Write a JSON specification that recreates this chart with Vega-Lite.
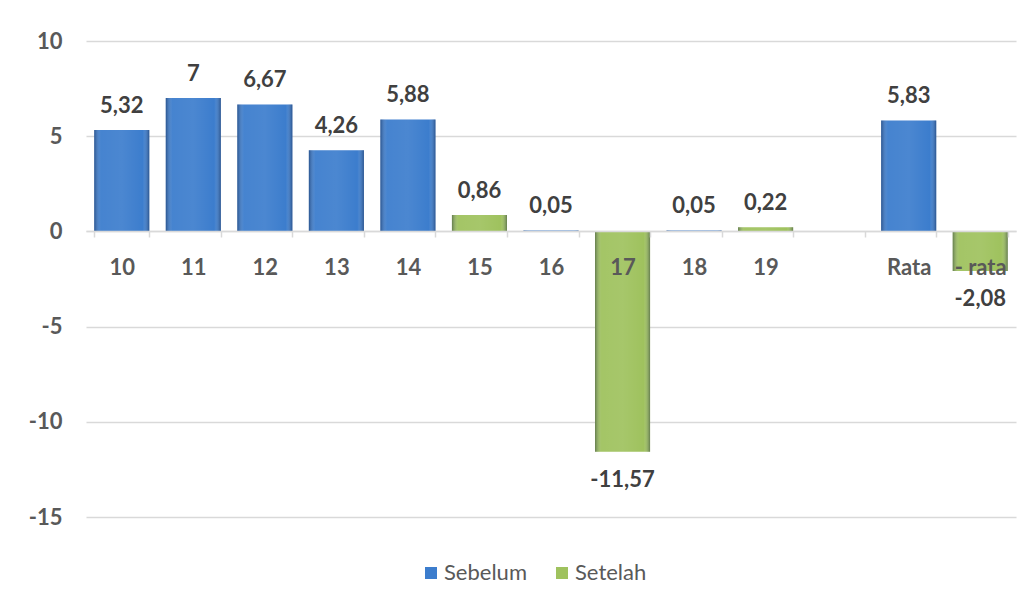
{
  "$schema": "https://vega.github.io/schema/vega-lite/v6.json",
  "width": 930,
  "height": 476,
  "autosize": "none",
  "padding": {"left": 86, "top": 41, "right": 16, "bottom": 82},
  "background": "white",
  "config": {
    "font": "Lato",
    "view": {"stroke": null},
    "locale": {"number": {"decimal": ",", "thousands": ".", "grouping": [3], "currency": ["", ""], "minus": "-"}}
  },
  "data": {
    "values": [
      {"kategori": "10", "seri": "Sebelum", "nilai": 5.32},
      {"kategori": "11", "seri": "Sebelum", "nilai": 7},
      {"kategori": "12", "seri": "Sebelum", "nilai": 6.67},
      {"kategori": "13", "seri": "Sebelum", "nilai": 4.26},
      {"kategori": "14", "seri": "Sebelum", "nilai": 5.88},
      {"kategori": "15", "seri": "Setelah", "nilai": 0.86},
      {"kategori": "16", "seri": "Sebelum", "nilai": 0.05},
      {"kategori": "17", "seri": "Setelah", "nilai": -11.57},
      {"kategori": "18", "seri": "Sebelum", "nilai": 0.05},
      {"kategori": "19", "seri": "Setelah", "nilai": 0.22},
      {"kategori": "Rata", "seri": "Sebelum", "nilai": 5.83},
      {"kategori": "- rata", "seri": "Setelah", "nilai": -2.08}
    ]
  },
  "encoding": {
    "x": {
      "field": "kategori",
      "type": "nominal",
      "scale": {"domain": ["10", "11", "12", "13", "14", "15", "16", "17", "18", "19", " ", "Rata", "- rata"], "paddingInner": 0.23, "paddingOuter": 0.115},
      "axis": {
        "title": null,
        "orient": "bottom",
        "offset": -286,
        "zindex": 1,
        "labelAngle": 0,
        "grid": false,
        "domainColor": "#d9d9d9",
        "domainWidth": 1.5,
        "tickColor": "#d9d9d9",
        "tickWidth": 1.5,
        "tickSize": 6,
        "tickBand": "extent",
        "labelFontSize": 22,
        "labelFontWeight": "bold",
        "labelColor": "#595959",
        "labelBaseline": "alphabetic",
        "labelPadding": 37
      }
    },
    "y": {
      "field": "nilai",
      "type": "quantitative",
      "scale": {"domain": [-15, 10], "nice": false},
      "axis": {
        "title": null,
        "values": [-15, -10, -5, 0, 5, 10],
        "grid": true,
        "gridColor": "#d9d9d9",
        "gridWidth": 1.5,
        "domain": false,
        "ticks": false,
        "labelPadding": 24,
        "labelFontSize": 22,
        "labelFontWeight": "bold",
        "labelColor": "#595959"
      }
    }
  },
  "layer": [
    {
      "mark": {"type": "bar"},
      "encoding": {
        "color": {
          "field": "seri",
          "type": "nominal",
          "scale": {"domain": ["Sebelum", "Setelah"], "range": ["#3c7dcd", "#9fc25e"]},
          "legend": {
            "title": null,
            "orient": "none",
            "legendX": 334,
            "legendY": 521,
            "direction": "horizontal",
            "padding": 0,
            "symbolType": "square",
            "symbolSize": 144,
            "symbolStrokeWidth": 0,
            "labelFontSize": 22,
            "labelColor": "#595959",
            "labelOffset": 2,
            "columnPadding": 24
          }
        }
      }
    },
    {
      "mark": {
        "type": "bar",
        "color": {
          "gradient": "linear",
          "x1": 0, "y1": 0, "x2": 1, "y2": 0,
          "stops": [
            {"offset": 0, "color": "rgba(10,20,50,0.4)"},
            {"offset": 0.12, "color": "rgba(255,255,255,0.05)"},
            {"offset": 0.5, "color": "rgba(255,255,255,0.08)"},
            {"offset": 0.88, "color": "rgba(255,255,255,0.0)"},
            {"offset": 1, "color": "rgba(10,20,50,0.4)"}
          ]
        }
      }
    },
    {
      "transform": [{"filter": "datum.nilai >= 0"}],
      "mark": {"type": "text", "dy": -17, "baseline": "alphabetic", "fontSize": 22, "fontWeight": "bold", "color": "#404040"},
      "encoding": {"text": {"field": "nilai", "type": "quantitative", "format": "~g"}}
    },
    {
      "transform": [{"filter": "datum.nilai < 0"}],
      "mark": {"type": "text", "dy": 35, "baseline": "alphabetic", "fontSize": 22, "fontWeight": "bold", "color": "#404040"},
      "encoding": {"text": {"field": "nilai", "type": "quantitative", "format": "~g"}}
    }
  ]
}
